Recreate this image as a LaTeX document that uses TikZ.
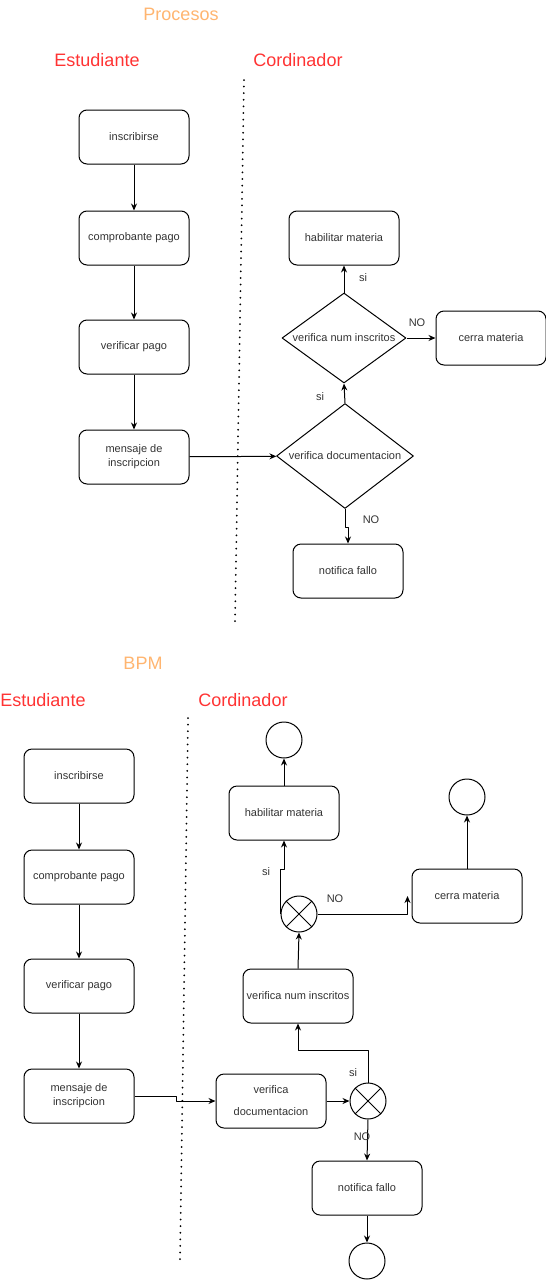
\documentclass[tikz,border=0pt]{standalone}
\usepackage{fontspec}
\setmainfont{Liberation Sans}
\usetikzlibrary{shapes.geometric,arrows.meta}
\definecolor{rojo}{HTML}{FF3333}
\definecolor{naranja}{HTML}{FFB570}
\definecolor{gris}{HTML}{333333}
\begin{document}
\begin{tikzpicture}[x=1pt, y=-1pt, line join=round, >={Stealth[length=7pt,width=6pt]}, line width=1pt,
	font=\fontsize{11}{14}\selectfont, text=gris,
	caja/.style={draw, rounded corners=8pt, minimum width=110pt, minimum height=54pt, align=center, inner sep=2pt},
	decision/.style={draw, diamond, inner sep=0pt},
	puerta/.style={draw, circle, minimum size=36pt, inner sep=0pt},
	fin/.style={draw, circle, minimum size=36pt, inner sep=0pt},
	titulo/.style={text=naranja, font=\fontsize{18}{22}\selectfont},
	actor/.style={text=rojo, font=\fontsize{18}{22}\selectfont},
	carril/.style={line width=2pt, line cap=round, dash pattern=on 0pt off 6.6pt},
	etq/.style={inner sep=1pt}]
	\useasboundingbox (0,0) rectangle (546,1280);
	% Procesos
	\node[titulo] (tproc) at (181,14) {Procesos};
	\node[actor] (test) at (97,60) {Estudiante};
	\node[actor] (tcor) at (298,60) {Cordinador};
	\draw[carril] (244,80)--(235,622);
	\node[caja] (ins) at (134,137) {inscribirse};
	\node[caja] (comp) at (134,238) {comprobante pago};
	\node[caja] (ver) at (134,347) {verificar pago};
	\node[caja] (msj) at (134,457) {mensaje de\\inscripcion};
	\node[caja] (hab) at (344,238) {habilitar materia};
	\node[decision, minimum width=124pt, minimum height=90pt, label=center:{verifica num inscritos}] (dnum) at (344,338) {};
	\node[caja] (cerr) at (491,338) {cerra materia};
	\node[decision, minimum width=137pt, minimum height=105pt, label=center:{verifica documentacion}] (ddoc) at (345,456) {};
	\node[caja] (fallo) at (348,571) {notifica fallo};
	\draw[->] (ins)--(comp);
	\draw[->] (comp)--(ver);
	\draw[->] (ver)--(msj);
	\draw[->] (msj)--(ddoc);
	\draw[->] (ddoc.north)--(dnum.south);
	\draw[->] (dnum)--(hab);
	\draw[->] (dnum.east)--(cerr.west);
	\draw[->] (ddoc.south)--++(0,18)-|(fallo.north);
	\node[etq] (s1) at (320,397) {si};
	\node[etq] (s2) at (363,278) {si};
	\node[etq] (n1) at (417,323) {NO};
	\node[etq] (n2) at (371,520) {NO};
	% BPM
	\node[titulo] (tbpm) at (143,663) {BPM};
	\node[actor] (test2) at (43,700) {Estudiante};
	\node[actor] (tcor2) at (243,700) {Cordinador};
	\draw[carril] (188,718)--(180,1262);
	\node[caja] (ins2) at (79,776) {inscribirse};
	\node[caja] (comp2) at (79,877) {comprobante pago};
	\node[caja] (ver2) at (79,986) {verificar pago};
	\node[caja] (msj2) at (79,1096) {mensaje de\\inscripcion};
	\node[caja] (vdoc) at (271,1101) {verifica\\[8pt]documentacion};
	\node[puerta] (gw1) at (368,1101) {};
	\node[caja] (vnum) at (298,996) {verifica num inscritos};
	\node[caja] (fallo2) at (367,1188) {notifica fallo};
	\node[fin] (fin1) at (367,1261) {};
	\node[puerta] (gw2) at (299,914) {};
	\node[caja] (hab2) at (284,813) {habilitar materia};
	\node[fin] (fin2) at (284,740) {};
	\node[caja] (cerr2) at (467,896) {cerra materia};
	\node[fin] (fin3) at (467,797) {};
	\coordinate (cin) at ([xshift=-4pt]cerr2.west);
	\foreach \g in {gw1,gw2}{
		\draw (\g.45)--(\g.225) (\g.135)--(\g.315);
	}
	\draw[->] (ins2)--(comp2);
	\draw[->] (comp2)--(ver2);
	\draw[->] (ver2)--(msj2);
	\draw[->] (msj2.east)--++(42,0)|-(vdoc.west);
	\draw[->] (vdoc)--(gw1);
	\draw[->] (gw1.north)--++(0,-32)-|(vnum.south);
	\draw[->] (gw1.south)--(fallo2.north);
	\draw[->] (fallo2)--(fin1);
	\draw[->] (vnum.north)--(gw2.south);
	\draw[->] (gw2.west)--++(0,-45)-|(hab2.south);
	\draw[->] (gw2.east)-|(cin);
	\draw[->] (hab2)--(fin2);
	\draw[->] (cerr2)--(fin3);
	\node[etq] (s3) at (266,872) {si};
	\node[etq] (n3) at (335,899) {NO};
	\node[etq] (s4) at (353,1073) {si};
	\node[etq] (n4) at (362,1137) {NO};
\end{tikzpicture}
\end{document}
